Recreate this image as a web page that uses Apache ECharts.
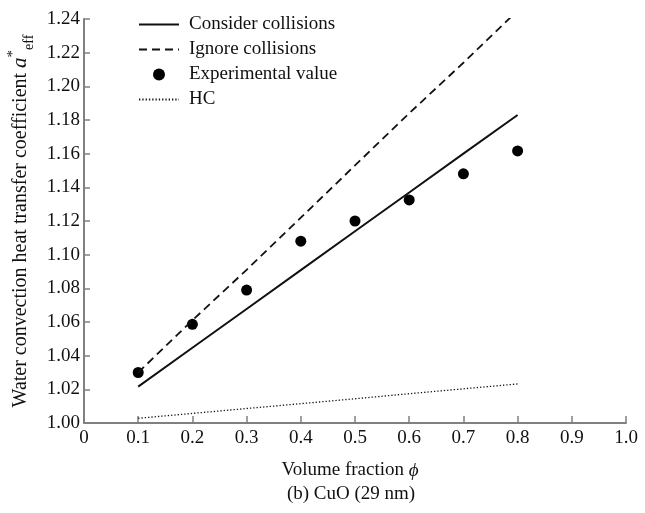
<!DOCTYPE html>
<html>
<head>
<meta charset="utf-8">
<script src="https://cdn.jsdelivr.net/npm/echarts@6/dist/echarts.min.js"></script>
<style>
  html, body { margin: 0; padding: 0; background: #fff; }
  #main { width: 645px; height: 513px; }
</style>
</head>
<body>
<div id="main"></div>
<script>
// 体积分数 (x)
var phi = [0.1, 0.2, 0.3, 0.4, 0.5, 0.6, 0.7, 0.8];
// 考虑碰撞
var considerVals = [1.0216, 1.0447, 1.0677, 1.0908, 1.1139, 1.1369, 1.1600, 1.1830];
// 忽略碰撞 (线在 1.24 处被裁切)
var ignoreVals = [1.030, 1.061, 1.091, 1.122, 1.153, 1.184, 1.214, 1.245];
// 实验值
var expVals = [1.030, 1.0586, 1.079, 1.108, 1.120, 1.1325, 1.148, 1.1616];
// HC
var hcVals = [1.0028, 1.0057, 1.0086, 1.0115, 1.0144, 1.0174, 1.0203, 1.0232];

var xTicks = ['0', '0.1', '0.2', '0.3', '0.4', '0.5', '0.6', '0.7', '0.8', '0.9', '1.0'];
var legendNames = ['Consider collisions', 'Ignore collisions', 'Experimental value', 'HC'];

function pairs(xs, ys) {
  var out = [];
  for (var i = 0; i < xs.length; i++) out.push([xs[i], ys[i]]);
  return out;
}

var FONT = '"Liberation Serif", "Times New Roman", serif';
var INK = '#111';
var AXIS = '#808080';

var myChart = echarts.init(document.getElementById('main'));

// 图例里线条不要中间的圆点
var noDot = { opacity: 0, color: 'transparent', borderWidth: 0 };

var option = {
  animation: false,
  backgroundColor: '#fff',
  textStyle: { fontFamily: FONT, color: INK },
  grid: { left: 84, right: 19, top: 19, bottom: 90, containLabel: false, outerBoundsMode: 'none' },
  title: {
    text: '(b) CuO (29 nm)',
    left: 346,
    textAlign: 'center',
    top: 480,
    textStyle: { fontFamily: FONT, fontSize: 19, fontWeight: 'normal', color: INK }
  },
  legend: {
    orient: 'vertical',
    left: 133,
    top: 10,
    itemWidth: 40,
    itemHeight: 12,
    itemGap: 6,
    align: 'left',
    data: [
      { name: legendNames[0], itemStyle: noDot },
      { name: legendNames[1], itemStyle: noDot },
      { name: legendNames[2], icon: 'circle' },
      { name: legendNames[3], itemStyle: noDot }
    ],
    textStyle: { fontFamily: FONT, fontSize: 19, color: INK, padding: [0, 0, 0, 5] }
  },
  xAxis: {
    type: 'value',
    min: 0,
    max: 1,
    interval: 0.1,
    name: 'Volume fraction {p|ϕ}',
    nameLocation: 'middle',
    nameGap: 38,
    nameTextStyle: {
      fontFamily: FONT, fontSize: 19, color: INK, padding: [0, 0, 0, -10],
      rich: { p: { fontFamily: FONT, fontSize: 19, fontStyle: 'italic', color: INK } }
    },
    splitLine: { show: false },
    axisLine: { lineStyle: { color: AXIS, width: 2 } },
    axisTick: { inside: true, length: 7, lineStyle: { color: AXIS, width: 1.5 } },
    axisLabel: {
      fontFamily: FONT, fontSize: 19, color: INK, margin: 6,
      formatter: function (v) { return xTicks[Math.round(v * 10)]; }
    }
  },
  yAxis: {
    type: 'value',
    min: 1.0,
    max: 1.24,
    interval: 0.02,
    name: '{t|Water convection heat transfer coefficient }{a|a}{s|*}{e|eff}',
    nameLocation: 'middle',
    nameGap: 47,
    nameRotate: 90,
    nameTextStyle: {
      rich: {
        t: { fontFamily: FONT, fontSize: 20, color: INK, lineHeight: 30 },
        a: { fontFamily: FONT, fontSize: 21, fontStyle: 'italic', color: INK, lineHeight: 30 },
        s: { fontFamily: FONT, fontSize: 15, color: INK, verticalAlign: 'top', lineHeight: 30 },
        e: { fontFamily: FONT, fontSize: 14, color: INK, verticalAlign: 'bottom', lineHeight: 26 }
      }
    },
    splitLine: { show: false },
    axisLine: { show: true, lineStyle: { color: AXIS, width: 2 } },
    axisTick: { show: true, inside: true, length: 6, lineStyle: { color: AXIS, width: 1.5 } },
    axisLabel: {
      fontFamily: FONT, fontSize: 19, color: INK, margin: 4,
      formatter: function (v) { return v.toFixed(2); }
    }
  },
  series: [
    {
      name: legendNames[0],
      type: 'line',
      symbol: 'none',
      data: pairs(phi, considerVals),
      lineStyle: { color: INK, width: 2, type: 'solid' },
      itemStyle: { color: INK }
    },
    {
      name: legendNames[1],
      type: 'line',
      symbol: 'none',
      clip: true,
      data: pairs(phi, ignoreVals),
      lineStyle: { color: INK, width: 1.8, type: [8, 5] },
      itemStyle: { color: INK }
    },
    {
      name: legendNames[2],
      type: 'scatter',
      symbol: 'circle',
      symbolSize: 11,
      symbolKeepAspect: true,
      data: pairs(phi, expVals),
      itemStyle: { color: '#000', opacity: 1 }
    },
    {
      name: legendNames[3],
      type: 'line',
      symbol: 'none',
      data: pairs(phi, hcVals),
      lineStyle: { color: INK, width: 1.3, type: [1.3, 2] },
      itemStyle: { color: INK }
    }
  ]
};

myChart.setOption(option);
</script>
</body>
</html>
